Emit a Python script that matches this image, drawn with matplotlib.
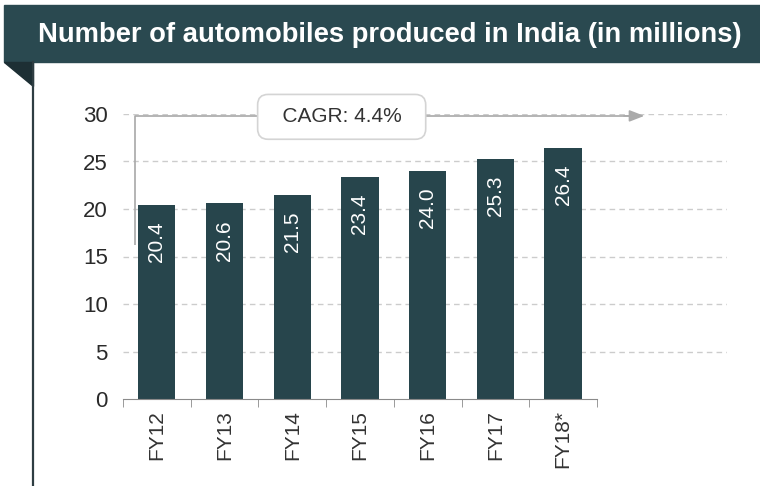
import matplotlib
matplotlib.use("Agg")
import matplotlib.pyplot as plt
from matplotlib.patches import Rectangle, Polygon
from matplotlib.lines import Line2D
import numpy as np

# data
years = ["FY12", "FY13", "FY14", "FY15", "FY16", "FY17", "FY18*"]
produced = [20.4, 20.6, 21.5, 23.4, 24.0, 25.3, 26.4]
yticks = [0, 5, 10, 15, 20, 25, 30]
cagr_text = "CAGR: 4.4%"

dark = "#2a4950"
bar_col = "#27454c"

fig = plt.figure(figsize=(7.6, 4.86), dpi=100)
W, H = 760.0, 486.0

# title band, little fold triangle and left rule
fig.patches.append(Rectangle((4 / W, 1 - 62 / H), 1 - 4 / W, 57 / H,
                             transform=fig.transFigure, color=dark, zorder=0))
fig.patches.append(Polygon([(4 / W, 1 - 62 / H), (33 / W, 1 - 62 / H), (33 / W, 1 - 86 / H)],
                           closed=True, transform=fig.transFigure, color="#1d2f34"))
fig.lines.append(Line2D([32.5 / W, 32.5 / W], [0, 1 - 62 / H], transform=fig.transFigure,
                        color="#2e3d42", lw=1.6))
title = fig.text(390 / W, 1 - 35 / H, "Number of automobiles produced in India (in millions)",
                 color="white", fontsize=18, fontweight="bold",
                 family="Liberation Sans", ha="center", va="center")
# shrink / grow the title so that it fills the band like the original
r = fig.canvas.get_renderer()
tw = title.get_window_extent(r).width
title.set_fontsize(18 * 704.0 / tw)

ax = fig.add_axes([123 / W, 1 - 399 / H, (727 - 123) / W, (399 - 114) / H])
x = np.arange(len(years))
ax.bar(x, produced, width=0.55, color=bar_col, zorder=3)
ax.set_xlim(-0.5, (727 - 123) / 67.7 - 0.5)
ax.set_ylim(0, 30)

for xi, v in zip(x, produced):
    ax.annotate(f"{v:.1f}", (xi, v), xytext=(0, -12), textcoords="offset points",
                rotation=90, ha="center", va="top", color="white", fontsize=15,
                family="Liberation Sans", zorder=4)

for s in ["top", "right", "left"]:
    ax.spines[s].set_visible(False)
ax.spines["bottom"].set_bounds(-0.5, len(years) - 0.5)
ax.spines["bottom"].set_color("#8a8a8a")
ax.spines["bottom"].set_zorder(5)

ax.set_yticks(yticks)
ax.set_yticklabels([str(t) for t in yticks], fontsize=16, color="#2a2a2a",
                   family="Liberation Sans")
ax.tick_params(axis="y", length=0, pad=11)

ax.set_xticks(x)
ax.set_xticklabels(years, rotation=90, fontsize=15, color="#333333", family="Liberation Sans")
ax.set_xticks(np.arange(-0.5, len(years), 1), minor=True)
ax.tick_params(axis="x", which="major", length=0, pad=8)
ax.tick_params(axis="x", which="minor", length=6, color="#8a8a8a", direction="out")

# dashed gridlines (none at zero, the axis line is there)
ax.hlines(yticks[1:], -0.5, ax.get_xlim()[1], colors="#cccccc", lw=1,
          linestyles=(0, (4, 3)), zorder=0)

# CAGR arrow
ax.plot([-0.32, -0.32, 7.14], [16.2, 29.8, 29.8], color="#a8a8a8", lw=1.2, zorder=2,
        solid_capstyle="butt")
ax.annotate("", xy=(7.2, 29.8), xytext=(6.9, 29.8),
            arrowprops=dict(arrowstyle="-|>,head_length=0.9,head_width=0.35",
                            color="#aaaaaa", lw=1.2, shrinkA=0, shrinkB=0), zorder=2)
ax.text(2.73, 29.7, "  " + cagr_text + "  ", ha="center", va="center", fontsize=15,
        color="#333333", family="Liberation Sans", zorder=6,
        bbox=dict(boxstyle="round,pad=0.62,rounding_size=0.5", fc="white", ec="#d4d4d4", lw=1.2))

fig.savefig("out.png", dpi=100)
